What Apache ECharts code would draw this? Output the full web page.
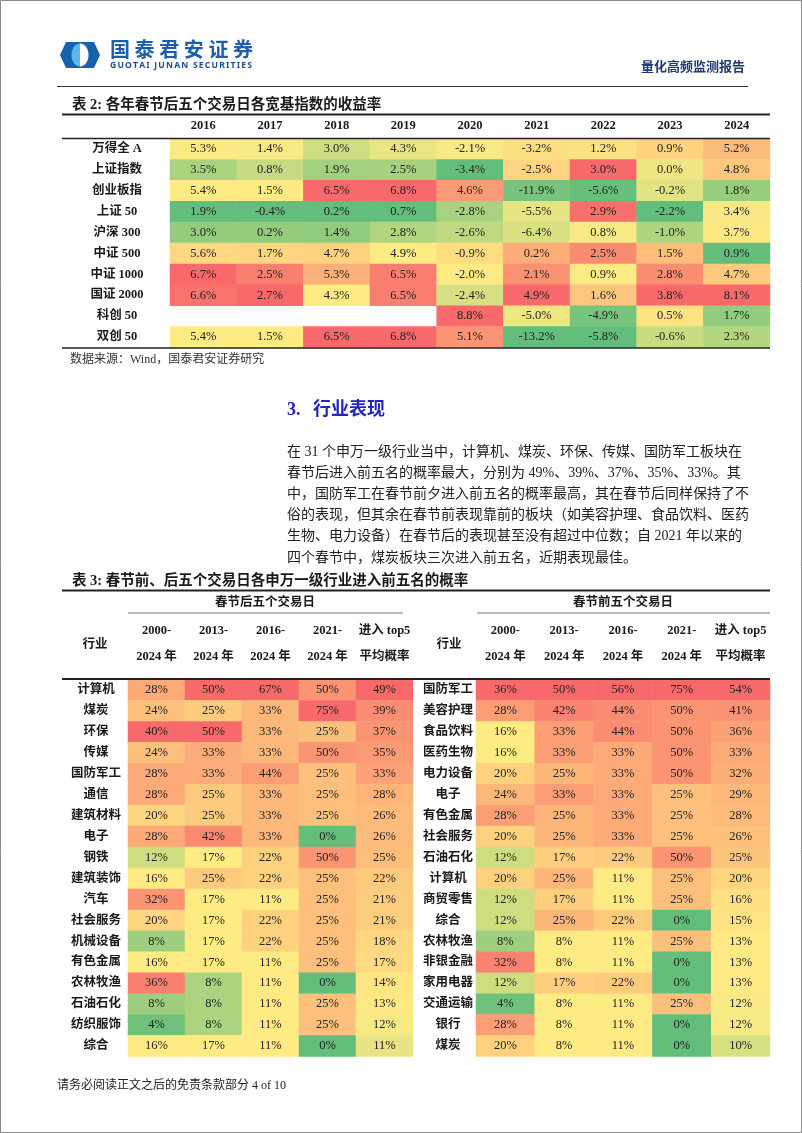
<!DOCTYPE html>
<html><head><meta charset="utf-8">
<script src="https://cdn.jsdelivr.net/npm/echarts@6/dist/echarts.min.js"></script>
<style>html,body{margin:0;padding:0;background:#fff}#c{width:802px;height:1133px}</style>
</head><body><div id="c"></div>
<script>
// ---------- Table 2 data ----------
const t2Years = ['2016','2017','2018','2019','2020','2021','2022','2023','2024'];
const t2Index = ['万得全 A','上证指数','创业板指','上证 50','沪深 300','中证 500','中证 1000','国证 2000','科创 50','双创 50'];
const rWindA   = [5.3, 1.4, 3.0, 4.3, -2.1, -3.2, 1.2, 0.9, 5.2];
const rSH      = [3.5, 0.8, 1.9, 2.5, -3.4, -2.5, 3.0, 0.0, 4.8];
const rCYB     = [5.4, 1.5, 6.5, 6.8, 4.6, -11.9, -5.6, -0.2, 1.8];
const rSZ50    = [1.9, -0.4, 0.2, 0.7, -2.8, -5.5, 2.9, -2.2, 3.4];
const rHS300   = [3.0, 0.2, 1.4, 2.8, -2.6, -6.4, 0.8, -1.0, 3.7];
const rZZ500   = [5.6, 1.7, 4.7, 4.9, -0.9, 0.2, 2.5, 1.5, 0.9];
const rZZ1000  = [6.7, 2.5, 5.3, 6.5, -2.0, 2.1, 0.9, 2.8, 4.7];
const rGZ2000  = [6.6, 2.7, 4.3, 6.5, -2.4, 4.9, 1.6, 3.8, 8.1];
const rKC50    = [null, null, null, null, 8.8, -5.0, -4.9, 0.5, 1.7];
const rSC50    = [5.4, 1.5, 6.5, 6.8, 5.1, -13.2, -5.8, -0.6, 2.3];
const t2Rows = [rWindA, rSH, rCYB, rSZ50, rHS300, rZZ500, rZZ1000, rGZ2000, rKC50, rSC50];

// ---------- Table 3 data ----------
const t3Cols = ['2000-\n2024 年','2013-\n2024 年','2016-\n2024 年','2021-\n2024 年','进入 top5\n平均概率'];
const afterInd = ['计算机','煤炭','环保','传媒','国防军工','通信','建筑材料','电子','钢铁','建筑装饰','汽车','社会服务','机械设备','有色金属','农林牧渔','石油石化','纺织服饰','综合'];
const after2000 = [28,24,40,24,28,28,20,28,12,16,32,20,8,16,36,8,4,16];
const after2013 = [50,25,50,33,33,25,25,42,17,25,17,17,17,17,8,8,8,17];
const after2016 = [67,33,33,33,44,33,33,33,22,22,11,22,22,11,11,11,11,11];
const after2021 = [50,75,25,50,25,25,25,0,50,25,25,25,25,25,0,25,25,0];
const afterAvg  = [49,39,37,35,33,28,26,26,25,22,21,21,18,17,14,13,12,11];
const beforeInd = ['国防军工','美容护理','食品饮料','医药生物','电力设备','电子','有色金属','社会服务','石油石化','计算机','商贸零售','综合','农林牧渔','非银金融','家用电器','交通运输','银行','煤炭'];
const before2000 = [36,28,16,16,20,24,28,20,12,20,12,12,8,32,12,4,28,20];
const before2013 = [50,42,33,33,25,33,25,25,17,25,17,25,8,8,17,8,8,8];
const before2016 = [56,44,44,33,33,33,33,33,22,11,11,22,11,11,22,11,11,11];
const before2021 = [75,50,50,50,50,25,25,25,50,25,25,0,25,0,0,25,0,0];
const beforeAvg  = [54,41,36,33,32,29,28,26,25,20,16,15,13,13,13,12,12,10];
// colour-scale anchors (low / mid / high) per column (scale covers all 31 industries)
const afterScale  = [[3,16,40],[0,17,50],[0,11,67],[0,0,75],[3,12.5,49]];
const beforeScale = [[3,16,36],[0,8,50],[0,11,56],[0,0,75],[3,12.5,54]];

// ---------- colour scale ----------
const GREEN=[99,190,123], YELLOW=[255,235,132], RED=[248,105,107];
function mix(a,b,t){t=Math.max(0,Math.min(1,t));return 'rgb('+a.map((x,i)=>Math.round(x+(b[i]-x)*t)).join(',')+')';}
function scaleColor(v,lo,mid,hi){
  if(v<=lo) return mix(GREEN,GREEN,0);
  if(v<=mid) return mix(GREEN,YELLOW,(v-lo)/(mid-lo));
  return mix(YELLOW,RED,(v-mid)/(hi-mid));
}
function pct50(arr){const s=arr.slice().sort((a,b)=>a-b);const p=(s.length-1)*0.5;const f=Math.floor(p);return s[f]+(s[Math.min(f+1,s.length-1)]-s[f])*(p-f);}

// table 2 heatmap data (per-column 3-colour scale)
const t2Data=[];
t2Years.forEach((y,ci)=>{
  const col=t2Rows.map(r=>r[ci]).filter(v=>v!==null);
  const lo=Math.min(...col), hi=Math.max(...col), mid=pct50(col);
  t2Rows.forEach((r,ri)=>{
    if(r[ci]===null) return;
    t2Data.push({value:[ci,ri,r[ci]],itemStyle:{color:scaleColor(r[ci],lo,mid,hi)}});
  });
});
function t3Data(cols,scales){
  const d=[];
  cols.forEach((col,ci)=>{const s=scales[ci];col.forEach((v,ri)=>{d.push({value:[ci,ri,v],itemStyle:{color:scaleColor(v,s[0],s[1],s[2])}});});});
  return d;
}
const afterData=t3Data([after2000,after2013,after2016,after2021,afterAvg],afterScale);
const beforeData=t3Data([before2000,before2013,before2016,before2021,beforeAvg],beforeScale);

// ---------- styling ----------
const SERIF="'Liberation Serif','Noto Sans CJK SC',serif";
const CJK="'Liberation Serif','Noto Sans CJK SC',sans-serif";
const INK='#1a1a1a';
function xAx(gi,data,margin,fs,lh){
  return {type:'category',gridIndex:gi,data:data,position:'top',axisLine:{show:false},axisTick:{show:false},splitLine:{show:false},
    axisLabel:{interval:0,margin:margin,color:INK,fontFamily:SERIF,fontWeight:'bold',fontSize:fs,lineHeight:lh,verticalAlign:'middle'}};
}
function yAx(gi,data,margin){
  return {type:'category',gridIndex:gi,data:data,inverse:true,axisLine:{show:false},axisTick:{show:false},splitLine:{show:false},
    axisLabel:{interval:0,margin:margin,align:'center',color:INK,fontFamily:CJK,fontWeight:'bold',fontSize:12.5}};
}
function hm(gi,data,fmt){
  return {type:'heatmap',xAxisIndex:gi,yAxisIndex:gi,data:data,emphasis:{disabled:true},
    label:{show:true,color:'#222',fontFamily:SERIF,fontSize:12.5,formatter:p=>fmt(p.value[2])}};
}
function txt(x,y,text,o){o=o||{};return {type:'text',x:x,y:y,z:100,style:Object.assign({text:text,fill:INK,fontFamily:CJK,fontSize:12,textAlign:'left',textVerticalAlign:'middle'},o)};}
function ln(x1,y1,x2,y2,w,c){return {type:'line',z:100,shape:{x1:x1,y1:y1,x2:x2,y2:y2},style:{stroke:c||'#222',lineWidth:w}};}
function ellipsePts(cx,cy,rx,ry,a0,a1){const p=[];for(let i=0;i<=24;i++){const a=a0+(a1-a0)*i/24;p.push([cx+rx*Math.cos(a),cy+ry*Math.sin(a)]);}return p;}
// letter-spaced text spread across a given width
const mctx=document.createElement('canvas').getContext('2d');
function spread(x0,x1,y,text,size,family,fill){
  mctx.font='bold '+size+'px '+family;
  const chars=Array.from(text);
  const ws=chars.map(c=>mctx.measureText(c).width);
  const tot=ws.reduce((a,b)=>a+b,0);
  const gap=(x1-x0-tot)/(chars.length-1);
  let x=x0;const out=[];
  chars.forEach((c,i)=>{out.push(txt(x,y,c,{fontSize:size,fontWeight:'bold',fontFamily:family,fill:fill}));x+=ws[i]+gap;});
  return out;
}

const para=['在 31 个申万一级行业当中，计算机、煤炭、环保、传媒、国防军工板块在',
'春节后进入前五名的概率最大，分别为 49%、39%、37%、35%、33%。其',
'中，国防军工在春节前夕进入前五名的概率最高，其在春节后同样保持了不',
'俗的表现，但其余在春节前表现靠前的板块（如美容护理、食品饮料、医药',
'生物、电力设备）在春节后的表现甚至没有超过中位数；自 2021 年以来的',
'四个春节中，煤炭板块三次进入前五名，近期表现最佳。'];

const graphics=[
  {type:'rect',z:0,shape:{x:0.5,y:0.5,width:801,height:1132},style:{fill:'none',stroke:'#8a8a8a',lineWidth:1}},
  // logo
  {type:'polygon',z:100,shape:{points:[[66,42],[94,42],[100,55],[94,68],[66,68],[60,55]]},style:{fill:'#1862ab'}},
  {type:'polygon',z:101,shape:{points:ellipsePts(80,55,8.5,11.5,Math.PI/2,Math.PI*1.5)},style:{fill:'#5cb8e6'}},
  {type:'polygon',z:101,shape:{points:ellipsePts(80,55,8.5,11.5,-Math.PI/2,Math.PI/2)},style:{fill:'#ffffff'}}
].concat(spread(110,253,49.5,'国泰君安证券',20,"'Noto Sans CJK SC'",'#1b5eab'))
 .concat(spread(110,252,65.5,'GUOTAI JUNAN SECURITIES',8.6,"'Noto Sans'",'#1b4f9a'))
 .concat([
  txt(745,68,'量化高频监测报告',{fill:'#1f3b70',fontSize:13,fontWeight:'bold',textAlign:'right'}),
  ln(57,86.5,748,86.5,1,'#333'),
  // table 2 frame
  txt(72,105,'表 2: 各年春节后五个交易日各宽基指数的收益率',{fontSize:14.5,fontWeight:'bold'}),
  ln(62,114.5,770,114.5,2),
  ln(62,138.5,770,138.5,1.5),
  ln(62,348,770,348,1.5),
  txt(70,360,'数据来源：Wind，国泰君安证券研究',{fontSize:12,fill:'#333'}),
  // section 3
  txt(287,410,'3.',{fontSize:18,fontWeight:'bold',fill:'#2424c4',fontFamily:SERIF}),
  txt(313,410,'行业表现',{fontSize:18,fontWeight:'bold',fill:'#2424c4'}),
]).concat(para.map((s,i)=>txt(287,452+i*21.2,s,{fontSize:14,fill:'#222'}))).concat([
  // table 3 frame
  txt(72,581,'表 3: 春节前、后五个交易日各申万一级行业进入前五名的概率',{fontSize:14.5,fontWeight:'bold'}),
  ln(62,590.5,770,590.5,2),
  txt(265,603,'春节后五个交易日',{fontSize:12.5,fontWeight:'bold',textAlign:'center'}),
  txt(623,603,'春节前五个交易日',{fontSize:12.5,fontWeight:'bold',textAlign:'center'}),
  ln(128,613,403,613,1,'#777'),
  ln(477,613,770,613,1,'#777'),
  txt(95,645,'行业',{fontSize:12.5,fontWeight:'bold',textAlign:'center'}),
  txt(449,645,'行业',{fontSize:12.5,fontWeight:'bold',textAlign:'center'}),
  ln(62,679,770,679,2),
  txt(57,1086,'请务必阅读正文之后的免责条款部分 4 of 10',{fontSize:12,fill:'#222'})
]);

const chart=echarts.init(document.getElementById('c'),null,{renderer:'canvas'});
chart.setOption({
  animation:false,
  backgroundColor:'#fff',
  grid:[
    {left:170,top:138.5,width:600,height:209},
    {left:128,top:679.5,width:285,height:377},
    {left:476,top:679.5,width:294,height:377}
  ],
  xAxis:[xAx(0,t2Years,12.5,12.5),xAx(1,t3Cols,35.5,12.5,26),xAx(2,t3Cols,35.5,12.5,26)],
  yAxis:[yAx(0,t2Index,53),yAx(1,afterInd,32),yAx(2,beforeInd,28)],
  series:[hm(0,t2Data,v=>v.toFixed(1)+'%'),hm(1,afterData,v=>v+'%'),hm(2,beforeData,v=>v+'%')],
  graphic:graphics
});
</script></body></html>
